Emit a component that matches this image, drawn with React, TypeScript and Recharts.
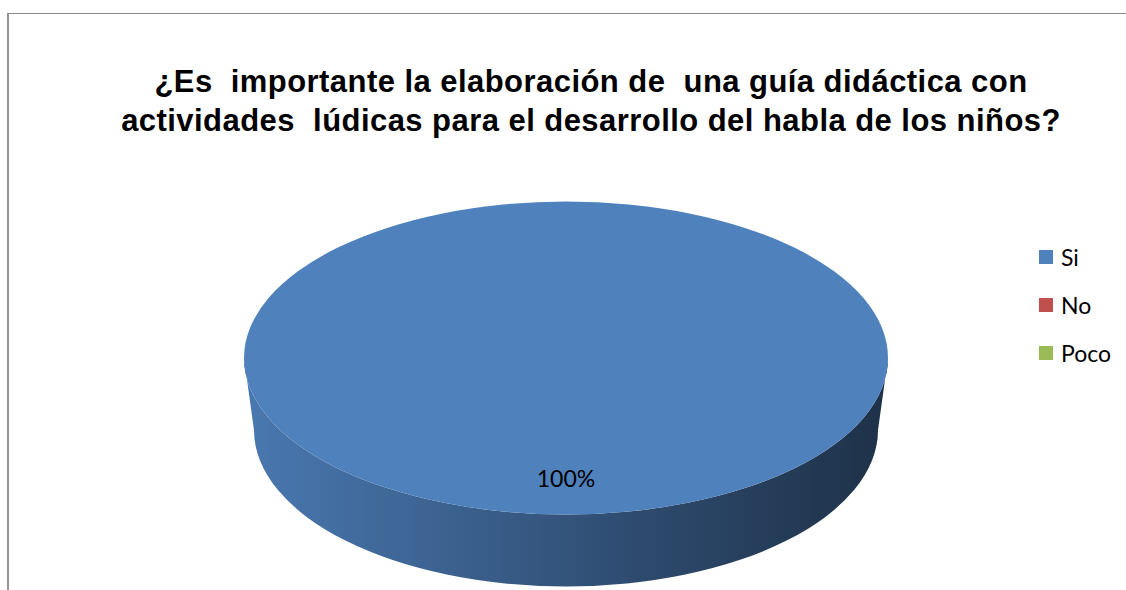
import React from 'react';
import { PieChart, Pie, Cell, Legend, Tooltip } from 'recharts';

const categories = ['Si', 'No', 'Poco'];
const values = [100, 0, 0];
const colors = ['#4f81bd', '#c0504d', '#9bbb59'];
const titleLines = [
  '¿Es  importante la elaboración de  una guía didáctica con',
  'actividades  lúdicas para el desarrollo del habla de los niños?',
];

const data = categories.map((name, i) => ({ name, value: values[i] }));

// 3D look: flatten the pie into an ellipse and give it a side wall
const TILT = 0.486;
const DEPTH = 72;
const BASE = 0.969;
const RAD = Math.PI / 180;

function shade(hex: string, f: number) {
  const n = parseInt(hex.slice(1), 16);
  const c = [(n >> 16) & 255, (n >> 8) & 255, n & 255].map((v) => Math.round(v * f));
  return `rgb(${c[0]},${c[1]},${c[2]})`;
}

const Slice3D = (props: any) => {
  const { cx, cy, outerRadius, startAngle, endAngle, fill, index } = props;
  const sweep = Math.abs(endAngle - startAngle);
  if (!sweep || sweep < 0.01) return null;
  const rx = outerRadius;
  const ry = outerRadius * TILT;
  const rxb = rx * BASE;
  const top = (a: number) => [cx + rx * Math.cos(a * RAD), cy - ry * Math.sin(a * RAD)];
  const bot = (a: number) => [cx + rxb * Math.cos(a * RAD), cy + DEPTH - ry * Math.sin(a * RAD)];

  const lo = Math.min(startAngle, endAngle);
  const hi = Math.max(startAngle, endAngle);
  const walls: string[] = [];
  for (let k = -2; k <= 2; k++) {
    const a = Math.max(lo, -180 + 360 * k);
    const b = Math.min(hi, 360 * k);
    if (b - a > 0.01) {
      const [x1, y1] = top(a);
      const [x2, y2] = top(b);
      const [x3, y3] = bot(b);
      const [x4, y4] = bot(a);
      walls.push(
        `M${x1},${y1} A${rx},${ry} 0 0 0 ${x2},${y2} L${x3},${y3} A${rxb},${ry} 0 0 1 ${x4},${y4} Z`
      );
    }
  }

  let face;
  if (sweep >= 359.99) {
    face = <ellipse cx={cx} cy={cy} rx={rx} ry={ry} fill={fill} />;
  } else {
    const [sx, sy] = top(startAngle);
    const [ex, ey] = top(endAngle);
    const large = sweep > 180 ? 1 : 0;
    const dir = endAngle < startAngle ? 1 : 0;
    face = <path d={`M${cx},${cy} L${sx},${sy} A${rx},${ry} 0 ${large} ${dir} ${ex},${ey} Z`} fill={fill} />;
  }

  const gid = `side-${index}`;
  return (
    <g>
      <defs>
        <linearGradient id={gid} gradientUnits="userSpaceOnUse" x1={cx - rx} y1={0} x2={cx + rx} y2={0}>
          <stop offset="0" stopColor={shade(fill, 0.93)} />
          <stop offset="0.35" stopColor={shade(fill, 0.74)} />
          <stop offset="0.65" stopColor={shade(fill, 0.56)} />
          <stop offset="1" stopColor={shade(fill, 0.38)} />
        </linearGradient>
      </defs>
      {walls.map((d, i) => (
        <path key={i} d={d} fill={`url(#${gid})`} />
      ))}
      {face}
    </g>
  );
};

const renderLabel = ({ cx, cy, midAngle, outerRadius, percent }: any) => {
  if (!percent) return null;
  const x = cx + outerRadius * 0.77 * Math.cos(-midAngle * RAD);
  const y = cy + outerRadius * TILT * 0.77 * Math.sin(-midAngle * RAD);
  return (
    <text x={x} y={y} textAnchor="middle" dominantBaseline="central" fill="#000" fontSize={23} fontFamily="Lato">
      {`${Math.round(percent * 100)}%`}
    </text>
  );
};

const LegendBox = () => (
  <div style={{ position: 'relative', fontFamily: 'Lato', fontSize: 23, color: '#000' }}>
    {categories.map((c, i) => (
      <div key={c} style={{ position: 'absolute', left: 0, top: i * 48, height: 14, width: 87 }}>
        <div style={{ position: 'absolute', left: 0, top: 0, width: 14, height: 14, background: colors[i] }} />
        <div style={{ position: 'absolute', left: 22, top: 0, lineHeight: '14px', whiteSpace: 'nowrap' }}>{c}</div>
      </div>
    ))}
  </div>
);

export default function App() {
  return (
    <div style={{ position: 'absolute', left: 0, top: 0, width: 1126, height: 590, background: '#fff', overflow: 'hidden' }}>
      <div
        style={{
          position: 'absolute',
          left: 7,
          top: 13,
          width: 1200,
          height: 600,
          borderTop: '1px solid #8a8a8a',
          borderLeft: '2px solid #939393',
        }}
      />
      <div
        style={{
          position: 'absolute',
          left: 0,
          top: 62,
          width: 1182,
          textAlign: 'center',
          fontFamily: '"Liberation Sans", Arial, sans-serif',
          fontWeight: 'bold',
          fontSize: 31,
          letterSpacing: '0.45px',
          lineHeight: '39px',
          whiteSpace: 'pre',
          color: '#000',
        }}
      >
        {titleLines.map((t) => (
          <div key={t}>{t}</div>
        ))}
      </div>
      <div style={{ position: 'absolute', left: 0, top: 0 }}>
        <PieChart width={1126} height={590} margin={{ top: 0, right: 0, bottom: 0, left: 0 }}>
          <Pie
            data={data}
            dataKey="value"
            nameKey="name"
            cx={566}
            cy={358}
            outerRadius={322}
            startAngle={90}
            endAngle={-270}
            stroke="none"
            shape={Slice3D}
            activeShape={Slice3D}
            inactiveShape={Slice3D}
            label={renderLabel}
            labelLine={false}
            isAnimationActive={false}
          >
            {data.map((d, i) => (
              <Cell key={d.name} fill={colors[i]} />
            ))}
          </Pie>
          <Tooltip defaultIndex={0} content={() => null} />
          <Legend
            layout="vertical"
            align="right"
            verticalAlign="top"
            content={<LegendBox />}
            wrapperStyle={{ left: 1039, top: 250, width: 87, right: 'auto', bottom: 'auto' }}
          />
        </PieChart>
      </div>
    </div>
  );
}
